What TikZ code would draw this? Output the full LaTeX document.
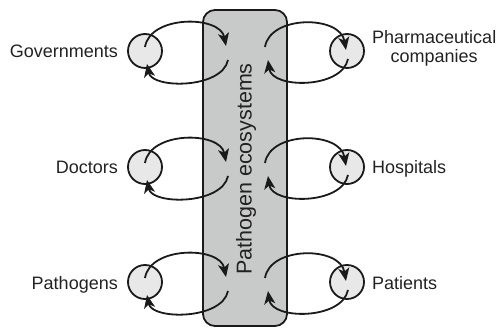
\documentclass[tikz,border=0pt]{standalone}
\usepackage{fontspec}
\setmainfont{Liberation Sans}
\usetikzlibrary{arrows.meta,calc}
\definecolor{boxfill}{RGB}{200,201,201}
\definecolor{circfill}{RGB}{232,232,232}
\definecolor{ink}{RGB}{26,26,26}
\definecolor{txt}{RGB}{34,34,34}
\begin{document}
\begin{tikzpicture}[x=1pt,y=-1pt,
  actor/.style={circle,draw=ink,line width=1.8pt,fill=circfill,minimum size=34pt,inner sep=0pt},
  lbl/.style={font=\fontsize{18}{19.5}\selectfont,inner sep=0pt,text=txt},
  flow/.style={draw=ink,line width=1.8pt,-{Stealth[length=13pt,width=11pt,inset=3.5pt]}},
]
\useasboundingbox (0,0) rectangle (497,328);
\node[draw=ink,line width=1.8pt,fill=boxfill,rounded corners=12pt,minimum width=84pt,minimum height=316pt,inner sep=0pt] (eco) at (245,168) {};
\node[rotate=90,font=\fontsize{21.5}{24}\selectfont,text=txt,inner sep=0pt] (ecolabel) at (246,169) {Pathogen ecosystems};
% left column
\foreach \n/\y/\t in {gov/51/Governments, doc/167/Doctors, pgn/282/Pathogens} {
  \node[actor] (\n) at (145,\y) {};
  \node[lbl,anchor=base east] (\n-l) at (118,\y+7) {\t};
  \coordinate (\n-a) at ($(\n.center)+(0,-4)$);
  \coordinate (\n-b) at ($(\n.center)+(81,-5)$);
  \coordinate (\n-c) at ($(\n.center)+(83,9)$);
  \coordinate (\n-d) at ($(\n.center)+(2,13)$);
  \draw[flow] (\n-a) .. controls ($(\n.center)+(5,-36)$) and ($(\n.center)+(75,-36)$) .. (\n-b);
  \draw[flow] (\n-c) .. controls ($(\n.center)+(77,38)$) and ($(\n.center)+(7,38)$) .. (\n-d);
}
% right column
\foreach \n/\y in {pha/51, hos/167, pat/282} {
  \node[actor] (\n) at (347,\y) {};
  \coordinate (\n-a) at ($(\n.center)+(-82,-4)$);
  \coordinate (\n-b) at ($(\n.center)+(-1,-1)$);
  \coordinate (\n-c) at ($(\n.center)+(1,8)$);
  \coordinate (\n-d) at ($(\n.center)+(-79,9)$);
  \draw[flow] (\n-a) .. controls ($(\n.center)+(-77,-36)$) and ($(\n.center)+(-7,-36)$) .. (\n-b);
  \draw[flow] (\n-c) .. controls ($(\n.center)+(-5,38)$) and ($(\n.center)+(-75,38)$) .. (\n-d);
}
\node[lbl,anchor=west,align=center] (pha-l) at (372,48.6) {Pharmaceutical\\companies};
\node[lbl,anchor=base west] (hos-l) at (372,174) {Hospitals};
\node[lbl,anchor=base west] (pat-l) at (372,289) {Patients};
\end{tikzpicture}
\end{document}
